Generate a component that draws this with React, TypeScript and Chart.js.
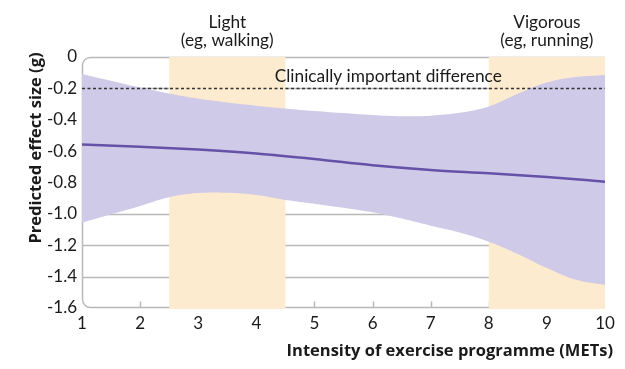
import React, { useEffect, useRef } from "react";
import { Chart, registerables } from "chart.js";

Chart.register(...registerables);

const xValues = [1, 2, 2.5, 3, 3.5, 4, 4.5, 5, 6, 6.5, 7, 7.5, 8, 8.5, 9, 9.5, 10];
const upperBound = [-0.108, -0.194, -0.232, -0.265, -0.29, -0.31, -0.328, -0.345, -0.37, -0.378, -0.374, -0.356, -0.316, -0.235, -0.163, -0.128, -0.114];
const lowerBound = [-1.056, -0.95, -0.894, -0.867, -0.866, -0.88, -0.911, -0.935, -0.99, -1.03, -1.075, -1.118, -1.177, -1.255, -1.345, -1.42, -1.453];
const meanX = [1, 2, 3, 4, 5, 6, 7, 8, 9, 10];
const meanY = [-0.557, -0.572, -0.59, -0.615, -0.65, -0.69, -0.72, -0.741, -0.765, -0.795];

const bands = [
  { from: 2.5, to: 4.5, line1: "Light", line2: "(eg, walking)" },
  { from: 8, to: 10, line1: "Vigorous", line2: "(eg, running)" },
];
const thresholdValue = -0.2;
const thresholdLabel = "Clinically important difference";
const thresholdLabelX = 6.27;
const xTicks = [1, 2, 3, 4, 5, 6, 7, 8, 9, 10];
const yTicks = [0, -0.2, -0.4, -0.6, -0.8, -1.0, -1.2, -1.4, -1.6];
const xTitle = "Intensity of exercise programme (METs)";
const yTitle = "Predicted effect size (g)";

const FONT = "Lato, 'Noto Sans', sans-serif";
const TITLE_FONT = "'Open Sans', Lato, sans-serif";
const GRAY = "#b9b9b9";

const backgroundPlugin = {
  id: "bg",
  beforeDatasetsDraw(chart: any) {
    const { ctx, chartArea } = chart;
    const xs = chart.scales.x;
    const ys = chart.scales.y;
    const { left, right, top, bottom } = chartArea;
    ctx.save();
    ctx.strokeStyle = GRAY;
    ctx.lineWidth = 1.5;
    yTicks.forEach((v) => {
      if (v === 0 || v === -1.6) return;
      const y = Math.round(ys.getPixelForValue(v)) + 0.5;
      ctx.beginPath();
      ctx.moveTo(left, y);
      ctx.lineTo(right, y);
      ctx.stroke();
    });
    const r = 8;
    const t = Math.round(top) + 0.5;
    const b = Math.round(bottom) - 0.5;
    const l = Math.round(left) + 0.5;
    ctx.beginPath();
    ctx.moveTo(right, t);
    ctx.lineTo(l + r, t);
    ctx.arcTo(l, t, l, t + r, r);
    ctx.lineTo(l, b - r);
    ctx.arcTo(l, b, l + r, b, r);
    ctx.lineTo(right, b);
    ctx.stroke();
    xTicks.forEach((v) => {
      if (v === 1 || v === 10) return;
      const x = Math.round(xs.getPixelForValue(v)) + 0.5;
      ctx.beginPath();
      ctx.moveTo(x, b);
      ctx.lineTo(x, b - 6);
      ctx.stroke();
    });
    ctx.fillStyle = "#fdebcf";
    bands.forEach((bd) => {
      const x0 = xs.getPixelForValue(bd.from);
      const x1 = xs.getPixelForValue(bd.to);
      ctx.fillRect(x0, top, x1 - x0, bottom - top + 1);
    });
    ctx.restore();
  },
  afterDatasetsDraw(chart: any) {
    const { ctx, chartArea } = chart;
    const xs = chart.scales.x;
    const ys = chart.scales.y;
    ctx.save();
    const y = Math.round(ys.getPixelForValue(thresholdValue)) + 0.5;
    ctx.strokeStyle = "#333";
    ctx.lineWidth = 1.3;
    ctx.setLineDash([3, 2.5]);
    ctx.beginPath();
    ctx.moveTo(chartArea.left, y);
    ctx.lineTo(chartArea.right, y);
    ctx.stroke();
    ctx.setLineDash([]);
    ctx.fillStyle = "#1a1a1a";
    ctx.font = `17.3px ${FONT}`;
    ctx.textAlign = "center";
    ctx.textBaseline = "alphabetic";
    ctx.fillText(thresholdLabel, xs.getPixelForValue(thresholdLabelX), 82);
    bands.forEach((bd) => {
      const cx = xs.getPixelForValue((bd.from + bd.to) / 2);
      ctx.fillText(bd.line1, cx, 28);
      ctx.fillText(bd.line2, cx, 46);
    });
    ctx.font = `bold 16.5px ${TITLE_FONT}`;
    ctx.textAlign = "right";
    ctx.fillText(xTitle, 613, 356);
    ctx.save();
    ctx.translate(41, 148);
    ctx.rotate(-Math.PI / 2);
    ctx.textAlign = "center";
    ctx.fillText(yTitle, 0, 0);
    ctx.restore();
    ctx.restore();
  },
};

export default function App() {
  const ref = useRef<HTMLCanvasElement | null>(null);
  useEffect(() => {
    document.body.style.margin = "0";
    const canvas = ref.current!;
    const chart = new Chart(canvas, {
      type: "line",
      data: {
        datasets: [
          {
            data: xValues.map((x, i) => ({ x, y: upperBound[i] })),
            borderWidth: 0,
            pointRadius: 0,
            backgroundColor: "#cfcae8",
            fill: "+1",
            tension: 0.4,
            order: 2,
          },
          {
            data: xValues.map((x, i) => ({ x, y: lowerBound[i] })),
            borderWidth: 0,
            pointRadius: 0,
            fill: false,
            tension: 0.4,
            order: 2,
          },
          {
            data: meanX.map((x, i) => ({ x, y: meanY[i] })),
            borderColor: "#6651a8",
            borderWidth: 2.5,
            pointRadius: 0,
            fill: false,
            cubicInterpolationMode: "monotone",
            order: 1,
          },
        ],
      },
      options: {
        animation: false,
        responsive: false,
        layout: { padding: { top: 57, right: 20, left: 0, bottom: 0 } },
        plugins: { legend: { display: false }, tooltip: { enabled: false } },
        scales: {
          x: {
            type: "linear",
            min: 1,
            max: 10,
            border: { display: false },
            grid: { display: false, drawTicks: false },
            afterBuildTicks: (s: any) => {
              s.ticks = xTicks.map((v) => ({ value: v }));
            },
            afterFit: (s: any) => {
              s.height = 61;
            },
            ticks: {
              padding: 5,
              color: "#1a1a1a",
              font: { family: FONT, size: 17 },
              callback: (v: any) => String(v),
            },
          },
          y: {
            min: -1.6,
            max: 0,
            border: { display: false },
            grid: { display: false, drawTicks: false },
            afterBuildTicks: (s: any) => {
              s.ticks = yTicks.map((v) => ({ value: v }));
            },
            afterFit: (s: any) => {
              s.width = 82;
            },
            ticks: {
              padding: 5,
              color: "#1a1a1a",
              font: { family: FONT, size: 17 },
              callback: (v: any) => (v === 0 ? "0" : Number(v).toFixed(1)),
            },
          },
        },
      },
      plugins: [backgroundPlugin],
    } as any);
    return () => chart.destroy();
  }, []);
  return (
    <div style={{ position: "relative", width: 625, height: 369 }}>
      <canvas ref={ref} width={625} height={369} style={{ width: 625, height: 369 }} />
    </div>
  );
}
